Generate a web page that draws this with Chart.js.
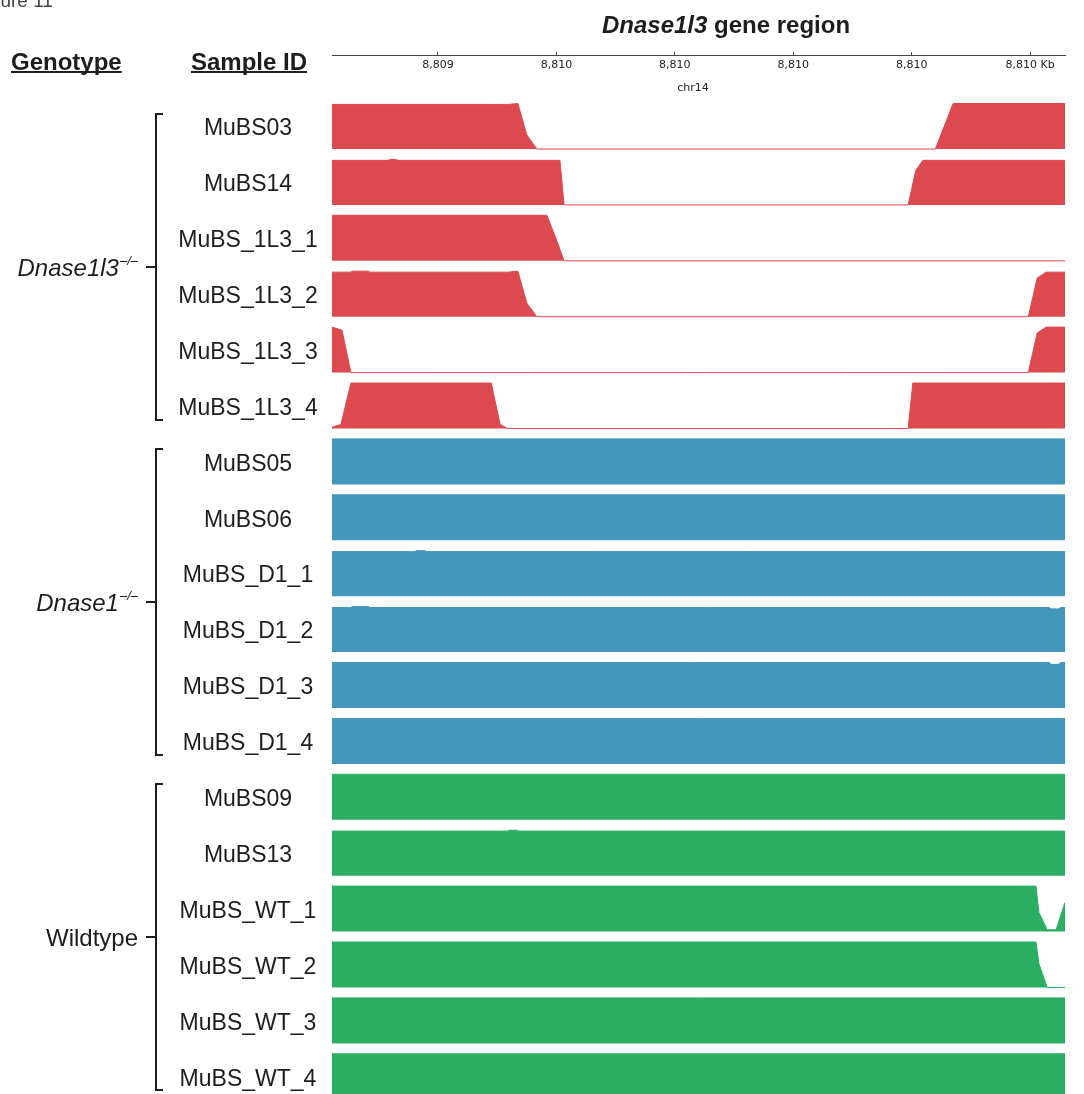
<!DOCTYPE html>
<html>
<head>
<meta charset="utf-8">
<title>Dnase1l3 gene region coverage</title>
<script src="https://cdn.jsdelivr.net/npm/chart.js@4.4.1/dist/chart.umd.min.js"></script>
<style>
  html, body { margin: 0; padding: 0; background: #ffffff; }
  #wrap { position: relative; width: 1084px; height: 1094px; overflow: hidden; }
  canvas { display: block; }
</style>
</head>
<body>
<div id="wrap"><canvas id="cov" width="1084" height="1094"></canvas></div>
<script>
// ---- Region and axis ----
const regionStart = 8809221;   // bp, chr14
const regionEnd   = 8810459;
const tickValues  = [8809400, 8809600, 8809800, 8810000, 8810200, 8810400];
const tickLabels  = ['8,809', '8,810', '8,810', '8,810', '8,810', '8,810 Kb'];
const chromosome  = 'chr14';

// ---- Samples and genotype groups ----
const sampleIds = [
  'MuBS03', 'MuBS14', 'MuBS_1L3_1', 'MuBS_1L3_2', 'MuBS_1L3_3', 'MuBS_1L3_4',
  'MuBS05', 'MuBS06', 'MuBS_D1_1', 'MuBS_D1_2', 'MuBS_D1_3', 'MuBS_D1_4',
  'MuBS09', 'MuBS13', 'MuBS_WT_1', 'MuBS_WT_2', 'MuBS_WT_3', 'MuBS_WT_4'
];
const genotypeNames  = ['Dnase1l3', 'Dnase1', 'Wildtype'];
const genotypeSup    = ['\u2013/\u2013', '\u2013/\u2013', ''];
const genotypeItalic = [true, true, false];
const groupSizes     = [6, 6, 6];
const groupColors    = ['#DC4A4F', '#4297BA', '#2AAF62'];

// ---- Coverage tracks: positions (bp) and normalised read depth (0-1) ----
const posMuBS03 = [8809221, 8809518, 8809535, 8809550, 8809567, 8810240, 8810270, 8810459];
const covMuBS03 = [0.98, 0.98, 1.00, 0.31, 0.00, 0.00, 1.00, 1.00];

const posMuBS14 = [8809221, 8809316, 8809318, 8809330, 8809332, 8809606, 8809613, 8810194, 8810207, 8810219, 8810459];
const covMuBS14 = [0.98, 0.98, 1.00, 1.00, 0.98, 0.98, 0.00, 0.00, 0.76, 0.98, 0.98];

const posMuBS_1L3_1 = [8809221, 8809584, 8809599, 8809613, 8810459];
const covMuBS_1L3_1 = [1.00, 1.00, 0.50, 0.00, 0.00];

const posMuBS_1L3_2 = [8809221, 8809253, 8809255, 8809283, 8809285, 8809518, 8809535, 8809550, 8809567, 8810397, 8810412, 8810427, 8810459];
const covMuBS_1L3_2 = [0.98, 0.98, 1.00, 1.00, 0.98, 0.98, 1.00, 0.30, 0.00, 0.00, 0.85, 0.98, 0.98];

const posMuBS_1L3_3 = [8809221, 8809238, 8809253, 8810397, 8810412, 8810427, 8810459];
const covMuBS_1L3_3 = [1.00, 0.93, 0.00, 0.00, 0.87, 1.00, 1.00];

const posMuBS_1L3_4 = [8809221, 8809236, 8809253, 8809490, 8809505, 8809518, 8810194, 8810202, 8810459];
const covMuBS_1L3_4 = [0.03, 0.09, 1.00, 1.00, 0.09, 0.00, 0.00, 1.00, 1.00];

const posMuBS05 = [8809221, 8810459];
const covMuBS05 = [1.00, 1.00];

const posMuBS06 = [8809221, 8810459];
const covMuBS06 = [1.00, 1.00];

const posMuBS_D1_1 = [8809221, 8809361, 8809363, 8809378, 8809380, 8810459];
const covMuBS_D1_1 = [0.98, 0.98, 1.00, 1.00, 0.98, 0.98];

const posMuBS_D1_2 = [8809221, 8809253, 8809255, 8809283, 8809285, 8810432, 8810436, 8810448, 8810452, 8810459];
const covMuBS_D1_2 = [0.98, 0.98, 1.00, 1.00, 0.98, 0.98, 0.95, 0.95, 0.98, 0.98];

const posMuBS_D1_3 = [8809221, 8810432, 8810436, 8810448, 8810452, 8810459];
const covMuBS_D1_3 = [1.00, 1.00, 0.96, 0.96, 1.00, 1.00];

const posMuBS_D1_4 = [8809221, 8810459];
const covMuBS_D1_4 = [1.00, 1.00];

const posMuBS09 = [8809221, 8810459];
const covMuBS09 = [1.00, 1.00];

const posMuBS13 = [8809221, 8809518, 8809520, 8809533, 8809535, 8810459];
const covMuBS13 = [0.98, 0.98, 1.00, 1.00, 0.98, 0.98];

const posMuBS_WT_1 = [8809221, 8810410, 8810415, 8810429, 8810444, 8810459];
const covMuBS_WT_1 = [1.00, 1.00, 0.42, 0.04, 0.04, 0.64];

const posMuBS_WT_2 = [8809221, 8810410, 8810415, 8810429, 8810459];
const covMuBS_WT_2 = [1.00, 1.00, 0.52, 0.00, 0.00];

const posMuBS_WT_3 = [8809221, 8810459];
const covMuBS_WT_3 = [1.00, 1.00];

const posMuBS_WT_4 = [8809221, 8810459];
const covMuBS_WT_4 = [1.00, 1.00];

const trackPositions = [
  posMuBS03, posMuBS14, posMuBS_1L3_1, posMuBS_1L3_2, posMuBS_1L3_3, posMuBS_1L3_4,
  posMuBS05, posMuBS06, posMuBS_D1_1, posMuBS_D1_2, posMuBS_D1_3, posMuBS_D1_4,
  posMuBS09, posMuBS13, posMuBS_WT_1, posMuBS_WT_2, posMuBS_WT_3, posMuBS_WT_4
];
const trackCoverage = [
  covMuBS03, covMuBS14, covMuBS_1L3_1, covMuBS_1L3_2, covMuBS_1L3_3, covMuBS_1L3_4,
  covMuBS05, covMuBS06, covMuBS_D1_1, covMuBS_D1_2, covMuBS_D1_3, covMuBS_D1_4,
  covMuBS09, covMuBS13, covMuBS_WT_1, covMuBS_WT_2, covMuBS_WT_3, covMuBS_WT_4
];

// ---- Track layout (in y-scale units: one slot per sample) ----
const TRACK_H = 0.814;     // filled height of a full-coverage track
const Y_MAX = 18.682;
const Y_MIN = 0.095;
const FONT = "'Liberation Sans', Arial, Helvetica, sans-serif";
const N = sampleIds.length;
const baseOf = i => N - 1 - i;

function groupOf(i) {
  let acc = 0;
  for (let g = 0; g < groupSizes.length; g++) {
    acc += groupSizes[g];
    if (i < acc) return g;
  }
  return groupSizes.length - 1;
}

const datasets = sampleIds.map((id, i) => {
  const base = baseOf(i);
  const color = groupColors[groupOf(i)];
  return {
    label: id,
    data: trackPositions[i].map((x, k) => ({ x: x, y: base + trackCoverage[i][k] * TRACK_H })),
    fill: { value: base },
    backgroundColor: color,
    borderColor: color,
    borderWidth: 1,
    pointRadius: 0,
    pointHoverRadius: 0,
    tension: 0
  };
});

// Labels, headers, title and genotype brackets drawn around the plot
const annotations = {
  id: 'annotations',
  afterDraw(chart) {
    const ctx = chart.ctx;
    const ys = chart.scales.y;
    const top = i => ys.getPixelForValue(baseOf(i) + TRACK_H);
    const bottom = i => ys.getPixelForValue(baseOf(i));
    ctx.save();
    ctx.fillStyle = '#1d1d1d';
    ctx.strokeStyle = '#1d1d1d';

    // figure label at the top-left edge
    ctx.font = '19px ' + FONT;
    ctx.fillStyle = '#444';
    ctx.textAlign = 'left';
    ctx.textBaseline = 'alphabetic';
    ctx.fillText('Figure 11', -26, 7);
    ctx.fillStyle = '#1d1d1d';

    // title with italic gene name
    ctx.font = 'bold italic 24px ' + FONT;
    const t1 = 'Dnase1l3';
    const w1 = ctx.measureText(t1).width;
    ctx.font = 'bold 24px ' + FONT;
    const t2 = ' gene region';
    const w2 = ctx.measureText(t2).width;
    const tx = 726 - (w1 + w2) / 2;
    ctx.font = 'bold italic 24px ' + FONT;
    ctx.fillText(t1, tx, 33);
    ctx.font = 'bold 24px ' + FONT;
    ctx.fillText(t2, tx + w1, 33);

    // chromosome name under the coordinate axis
    ctx.font = "11px 'DejaVu Sans', sans-serif";
    ctx.textAlign = 'center';
    ctx.fillText(chromosome, 693, 91);

    // column headers, underlined
    ctx.font = 'bold 24px ' + FONT;
    ctx.textAlign = 'left';
    const headers = [['Genotype', 11], ['Sample ID', 191]];
    headers.forEach(([txt, hx]) => {
      ctx.fillText(txt, hx, 70);
      const hw = ctx.measureText(txt).width;
      ctx.fillRect(hx, 71, hw, 2);
    });

    // sample labels
    ctx.font = '23px ' + FONT;
    ctx.textAlign = 'center';
    ctx.textBaseline = 'alphabetic';
    sampleIds.forEach((id, i) => {
      const cy = (top(i) + bottom(i)) / 2;
      ctx.fillText(id, 248, cy + 9);
    });

    // genotype brackets and names
    let start = 0;
    ctx.lineWidth = 2;
    groupSizes.forEach((n, g) => {
      const bt = Math.round(top(start) + 10);
      const bb = Math.round(bottom(start + n - 1) - 9);
      const mid = Math.round((bt + bb) / 2);
      ctx.beginPath();
      ctx.moveTo(163, bt); ctx.lineTo(156, bt); ctx.lineTo(156, bb); ctx.lineTo(163, bb);
      ctx.moveTo(156, mid); ctx.lineTo(146, mid);
      ctx.stroke();

      const mainFont = (genotypeItalic[g] ? 'italic ' : '') + '24px ' + FONT;
      const supFont = 'italic 13px ' + FONT;
      ctx.font = mainFont;
      const mw = ctx.measureText(genotypeNames[g]).width;
      let sw = 0;
      if (genotypeSup[g]) { ctx.font = supFont; sw = ctx.measureText(genotypeSup[g]).width + 1; }
      const x0 = 138 - mw - sw;
      ctx.textAlign = 'left';
      ctx.font = mainFont;
      ctx.fillText(genotypeNames[g], x0, mid + 9);
      if (genotypeSup[g]) {
        ctx.font = supFont;
        ctx.fillText(genotypeSup[g], x0 + mw + 1, mid - 2);
      }
      start += n;
    });
    ctx.restore();
  }
};

new Chart(document.getElementById('cov'), {
  type: 'line',
  data: { datasets: datasets },
  options: {
    responsive: false,
    animation: false,
    devicePixelRatio: 1,
    events: [],
    layout: { padding: { left: 332, right: 19, top: 55, bottom: 0 } },
    elements: { line: { tension: 0 } },
    scales: {
      x: {
        type: 'linear',
        min: regionStart,
        max: regionEnd,
        position: { y: Y_MAX },
        afterBuildTicks: scale => { scale.ticks = tickValues.map(v => ({ value: v })); },
        ticks: {
          autoSkip: false,
          maxRotation: 0,
          minRotation: 0,
          padding: 8,
          color: '#222',
          font: { family: "'DejaVu Sans', sans-serif", size: 11 },
          callback: (value, index) => tickLabels[index]
        },
        grid: { drawOnChartArea: false, drawTicks: true, tickLength: -4, color: '#444', lineWidth: 1 },
        border: { display: true, color: '#444', width: 1 }
      },
      y: {
        type: 'linear',
        display: false,
        min: Y_MIN,
        max: Y_MAX
      }
    },
    plugins: {
      legend: { display: false },
      tooltip: { enabled: false },
      title: { display: false }
    }
  },
  plugins: [annotations]
});
</script>
</body>
</html>
